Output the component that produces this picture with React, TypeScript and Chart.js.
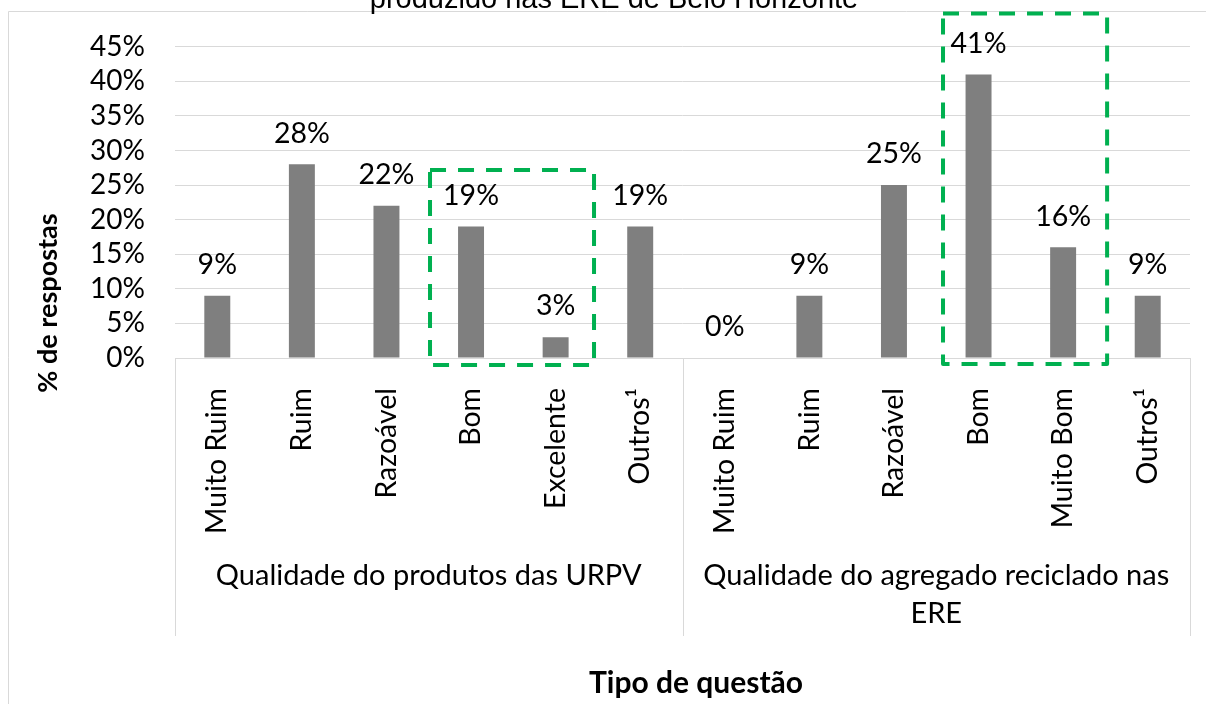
import React, { useEffect, useRef } from 'react';
import { Chart, registerables } from 'chart.js';

Chart.register(...registerables);

// ---- data ----
const categories = [
  'Muito Ruim', 'Ruim', 'Razoável', 'Bom', 'Excelente', 'Outros¹',
  'Muito Ruim', 'Ruim', 'Razoável', 'Bom', 'Muito Bom', 'Outros¹',
];
const values = [9, 28, 22, 19, 3, 19, 0, 9, 25, 41, 16, 9];
const groupLabels = [
  ['Qualidade do produtos das URPV'],
  ['Qualidade do agregado reciclado nas', 'ERE'],
];
const groupStarts = [0, 6];
const groupEnds = [5, 11];
const yMin = 0;
const yMax = 45;
const yStep = 5;
const titleText = 'produzido nas ERE de Belo Horizonte';
const yTitleText = '% de respostas';
const xTitleText = 'Tipo de questão';
// highlighted regions (category index range, value range)
const boxFrom = [2.515, 8.58];
const boxTo = [4.454, 10.52];
const boxTop = [27.2, 49.8];
const boxBottom = [-1.0, -0.86];

const FONT = 'Lato, "Open Sans", sans-serif';
const GRID = '#d9d9d9';

const decorPlugin = {
  id: 'decor',
  beforeDraw(chart: any) {
    const ctx = chart.ctx;
    ctx.save();
    ctx.fillStyle = '#ffffff';
    ctx.fillRect(0, 0, chart.width, chart.height);
    // outer chart border (top and left visible)
    ctx.strokeStyle = GRID;
    ctx.lineWidth = 1;
    ctx.beginPath();
    ctx.moveTo(8.5, chart.height);
    ctx.lineTo(8.5, 11.5);
    ctx.lineTo(chart.width, 11.5);
    ctx.stroke();
    // title (partly cut at top)
    ctx.fillStyle = '#000';
    ctx.font = '29px "Liberation Sans", Arial, sans-serif';
    ctx.textAlign = 'center';
    ctx.textBaseline = 'alphabetic';
    ctx.fillText(titleText, 614, 8);
    ctx.restore();
  },
  afterDraw(chart: any) {
    const ctx = chart.ctx;
    const xs = chart.scales.x;
    const ys = chart.scales.y;
    const area = chart.chartArea;
    ctx.save();

    // group separators on the category axis
    ctx.strokeStyle = GRID;
    ctx.lineWidth = 1;
    const bounds = [groupStarts[0] - 0.5, ...groupEnds.map((e) => e + 0.5)];
    bounds.forEach((b) => {
      const x = Math.round(xs.getPixelForValue(b)) + 0.5;
      ctx.beginPath();
      ctx.moveTo(x, area.bottom);
      ctx.lineTo(x, area.bottom + 278);
      ctx.stroke();
    });

    // group labels
    ctx.fillStyle = '#000';
    ctx.font = `29px ${FONT}`;
    ctx.textAlign = 'center';
    ctx.textBaseline = 'middle';
    groupLabels.forEach((lines, gi) => {
      const cx = (xs.getPixelForValue(groupStarts[gi] - 0.5) + xs.getPixelForValue(groupEnds[gi] + 0.5)) / 2;
      lines.forEach((ln, li) => {
        ctx.fillText(ln, cx, area.bottom + 218 + li * 38);
      });
    });

    // axis titles
    ctx.font = `bold 30px ${FONT}`;
    ctx.fillText(xTitleText, 696, 683);
    ctx.font = `bold 27px ${FONT}`;
    ctx.save();
    ctx.translate(48, 303);
    ctx.rotate(-Math.PI / 2);
    ctx.fillText(yTitleText, 0, 0);
    ctx.restore();

    // data labels
    const meta = chart.getDatasetMeta(0);
    ctx.font = `28.5px ${FONT}`;
    meta.data.forEach((bar: any, i: number) => {
      ctx.fillText(`${values[i]}%`, bar.x, bar.y - 31);
    });

    // dashed highlight boxes
    ctx.strokeStyle = '#00B050';
    ctx.lineWidth = 4;
    ctx.lineJoin = 'round';
    ctx.setLineDash([16, 12]);
    boxFrom.forEach((f, i) => {
      const x0 = xs.getPixelForValue(f);
      const x1 = xs.getPixelForValue(boxTo[i]);
      const y0 = ys.getPixelForValue(boxTop[i]);
      const y1 = ys.getPixelForValue(boxBottom[i]);
      ctx.beginPath();
      ctx.rect(x0, y0, x1 - x0, y1 - y0);
      ctx.stroke();
    });
    ctx.setLineDash([]);
    ctx.restore();
  },
};

export default function App() {
  const ref = useRef<HTMLCanvasElement | null>(null);

  useEffect(() => {
    let chart: Chart | null = null;
    let cancelled = false;
    const make = () => {
      if (cancelled || !ref.current) return;
      chart = new Chart(ref.current, {
        type: 'bar',
        data: {
          labels: categories,
          datasets: [
            {
              data: values,
              backgroundColor: '#7f7f7f',
              borderWidth: 0,
              barPercentage: 0.307,
              categoryPercentage: 1,
            },
          ],
        },
        options: {
          responsive: false,
          animation: false,
          events: [],
          layout: { padding: { top: 43, left: 0, right: 16, bottom: 0 } },
          plugins: {
            legend: { display: false },
            tooltip: { enabled: false },
            title: { display: false },
          },
          scales: {
            x: {
              grid: { display: false },
              border: { display: true, color: GRID },
              ticks: {
                autoSkip: false,
                minRotation: 90,
                maxRotation: 90,
                padding: 22,
                color: '#000',
                font: { family: FONT, size: 28.5 },
              },
              afterFit: (s: any) => {
                s.height = 346;
              },
            },
            y: {
              min: yMin,
              max: yMax,
              grid: { color: GRID, drawTicks: false },
              border: { display: false },
              ticks: {
                stepSize: yStep,
                autoSkip: false,
                padding: 30,
                color: '#000',
                font: { family: FONT, size: 28 },
                callback: (v: any) => `${v}%`,
              },
              afterFit: (s: any) => {
                s.width = 175;
              },
            },
          },
        },
        plugins: [decorPlugin],
      });
    };
    const fonts: any = (document as any).fonts;
    if (fonts && fonts.load) {
      Promise.all([
        fonts.load(`28px Lato`),
        fonts.load(`bold 27px Lato`),
        fonts.load(`29px "Liberation Sans"`),
      ]).then(make, make);
    } else {
      make();
    }
    return () => {
      cancelled = true;
      if (chart) chart.destroy();
    };
  }, []);

  return (
    <div style={{ position: 'fixed', left: 0, top: 0, width: 1206, height: 704, background: '#fff' }}>
      <canvas ref={ref} width={1206} height={704} style={{ display: 'block' }} />
    </div>
  );
}
